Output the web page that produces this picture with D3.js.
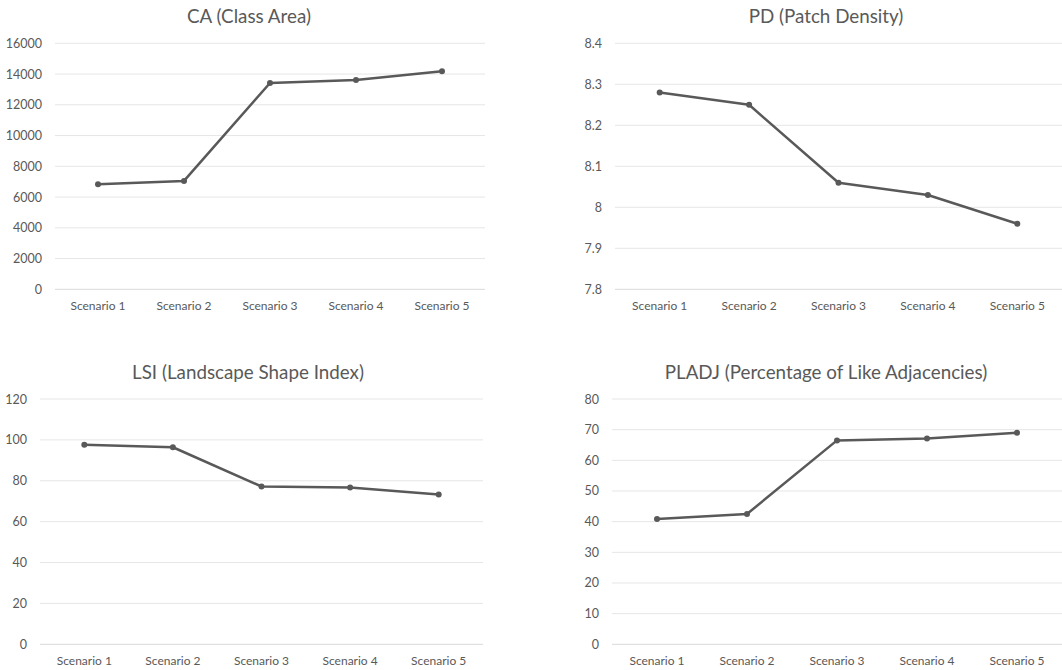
<!DOCTYPE html>
<html>
<head>
<meta charset="utf-8">
<script src="https://cdn.jsdelivr.net/npm/d3@7"></script>
<style>
  body { margin: 0; background: #fff; }
  svg text { font-family: Lato, "Open Sans", sans-serif; fill: #595959; }
</style>
</head>
<body>
<svg id="chart" width="1062" height="670"></svg>
<script>
const scenarios = ["Scenario 1", "Scenario 2", "Scenario 3", "Scenario 4", "Scenario 5"];

const caValues = [6830, 7050, 13420, 13620, 14180];
const pdValues = [8.28, 8.25, 8.06, 8.03, 7.96];
const lsiValues = [97.6, 96.4, 77.2, 76.7, 73.3];
const pladjValues = [40.9, 42.5, 66.5, 67.1, 69.0];

const caTicks = [0, 2000, 4000, 6000, 8000, 10000, 12000, 14000, 16000];
const pdTicks = [7.8, 7.9, 8, 8.1, 8.2, 8.3, 8.4];
const lsiTicks = [0, 20, 40, 60, 80, 100, 120];
const pladjTicks = [0, 10, 20, 30, 40, 50, 60, 70, 80];

const svg = d3.select("#chart");

const panels = [
  { title: "CA (Class Area)", values: caValues, ticks: caTicks,
    left: 55, right: 485, top: 43.3, bottom: 289.3, titleX: 249, titleY: 23 },
  { title: "PD (Patch Density)", values: pdValues, ticks: pdTicks,
    left: 615, right: 1062, top: 43.3, bottom: 289.3, titleX: 826, titleY: 23 },
  { title: "LSI (Landscape Shape Index)", values: lsiValues, ticks: lsiTicks,
    left: 40, right: 483, top: 399, bottom: 644.3, titleX: 248, titleY: 379 },
  { title: "PLADJ (Percentage of Like Adjacencies)", values: pladjValues, ticks: pladjTicks,
    left: 612, right: 1062, top: 399, bottom: 644.3, titleX: 826, titleY: 379 }
];

panels.forEach(p => {
  const g = svg.append("g");

  const x = d3.scaleBand()
    .domain(scenarios)
    .range([p.left, p.right]);

  const y = d3.scaleLinear()
    .domain(d3.extent(p.ticks))
    .range([p.bottom, p.top]);

  // gridlines
  g.selectAll("line.grid")
    .data(p.ticks)
    .enter()
    .append("line")
    .attr("x1", p.left)
    .attr("x2", p.right)
    .attr("y1", d => y(d))
    .attr("y2", d => y(d))
    .attr("stroke", d => d === p.ticks[0] ? "#d9d9d9" : "#e6e6e6")
    .attr("stroke-width", 1);

  // y axis labels
  const yAxis = g.append("g")
    .attr("transform", `translate(${p.left},0)`)
    .call(d3.axisLeft(y).tickValues(p.ticks).tickSize(0).tickPadding(13).tickFormat(d3.format("")));
  yAxis.select(".domain").remove();
  yAxis.selectAll("text")
    .style("font-size", "12.5px")
    .attr("fill", "#595959");

  // x axis labels
  const xAxis = g.append("g")
    .attr("transform", `translate(0,${p.bottom})`)
    .call(d3.axisBottom(x).tickSize(0).tickPadding(12));
  xAxis.select(".domain").remove();
  xAxis.selectAll("text")
    .style("font-size", "12px")
    .attr("fill", "#595959");

  g.append("text")
    .attr("x", p.titleX)
    .attr("y", p.titleY)
    .attr("text-anchor", "middle")
    .style("font-size", "18.8px")
    .text(p.title);

  const cx = (d, i) => x(scenarios[i]) + x.bandwidth() / 2;

  const line = d3.line()
    .x((d, i) => cx(d, i))
    .y(d => y(d));

  g.append("path")
    .datum(p.values)
    .attr("d", line)
    .attr("fill", "none")
    .attr("stroke", "#595959")
    .attr("stroke-width", 2.5)
    .attr("stroke-linejoin", "round");

  g.selectAll("circle")
    .data(p.values)
    .enter()
    .append("circle")
    .attr("cx", cx)
    .attr("cy", d => y(d))
    .attr("r", 3)
    .attr("fill", "#595959");
});
</script>
</body>
</html>
